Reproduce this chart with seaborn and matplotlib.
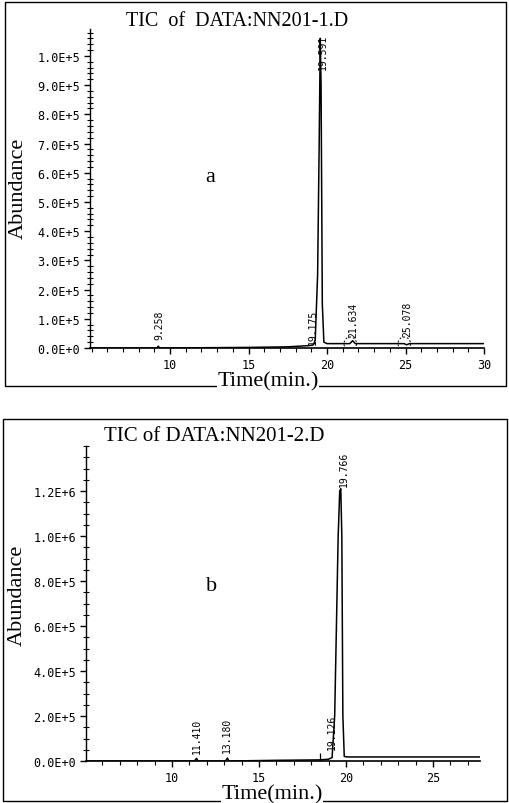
import matplotlib
matplotlib.use("Agg")
import matplotlib.pyplot as plt
import seaborn as sns
import pandas as pd
from matplotlib.patches import Rectangle, Ellipse
from matplotlib.ticker import MultipleLocator, FixedLocator

# Chromatogram a (NN201-1)
time_a = [4.9, 9.15, 9.25, 9.35, 15.0, 17.5, 18.8, 19.1, 19.175, 19.25, 19.4, 19.5,
          19.57, 19.62, 19.7, 19.8, 20.0, 21.45, 21.63, 21.8, 24.9, 25.08, 25.25, 30.0]
abund_a = [0, 0, 6e3, 0, 2e3, 4e3, 8e3, 1e4, 1.6e4, 3e4, 2.5e5, 7e5,
           1.06e6, 9e5, 1.5e5, 2e4, 1.5e4, 1.5e4, 2.5e4, 1.5e4, 1.5e4, 1.1e4, 1.5e4, 1.5e4]
peaks_a = ["9.258", "19.175", "19.591", "21.634", "25.078"]
peak_pos_a = [9.3, 19.1, 19.74, 21.68, 25.12]
peak_lab_y_a = [0.3e5, 0.14e5, 9.55e5, 0.38e5, 0.4e5]
yticks_a = [i * 1e5 for i in range(11)]
ylabels_a = ["0.0E+0", "1.0E+5", "2.0E+5", "3.0E+5", "4.0E+5", "5.0E+5",
             "6.0E+5", "7.0E+5", "8.0E+5", "9.0E+5", "1.0E+5"]
xticks_a = [10, 15, 20, 25, 30]

# Chromatogram b (NN201-2)
time_b = [5.06, 11.3, 11.41, 11.5, 13.08, 13.18, 13.28, 16.0, 18.5, 19.0, 19.2, 19.35,
          19.45, 19.55, 19.64, 19.7, 19.76, 19.82, 19.9, 20.1, 27.7]
abund_b = [0, 0, 1.2e4, 0, 0, 1.3e4, 0, 3e3, 5e3, 8e3, 1.5e4, 2e5,
           6e5, 1.0e6, 1.2e6, 1.21e6, 1.0e6, 2e5, 2e4, 1.8e4, 1.8e4]
peaks_b = ["11.410", "13.180", "19.126", "19.766"]
peak_pos_b = [11.44, 13.16, 19.2, 19.85]
peak_lab_y_b = [0.35e5, 0.4e5, 0.55e5, 12.2e5]
marks_b = [18.5]
yticks_b = [i * 2e5 for i in range(7)]
ylabels_b = ["0.0E+0", "2.0E+5", "4.0E+5", "6.0E+5", "8.0E+5", "1.0E+6", "1.2E+6"]
xticks_b = [10, 15, 20, 25]

sns.set_style("ticks")
plt.rcParams["font.family"] = ["DejaVu Sans Mono"]
plt.rcParams["text.color"] = "black"
plt.rcParams["xtick.color"] = "black"
plt.rcParams["ytick.color"] = "black"
plt.rcParams["axes.edgecolor"] = "black"
serif = ["Liberation Serif", "DejaVu Serif"]
mono = ["DejaVu Sans Mono"]

W, H = 509, 804
fig = plt.figure(figsize=(W / 100, H / 100), dpi=100)


def fx(px):
    return px / W


def fy(py):
    return 1 - py / H


def panel(rect, t, a, xlim, ylim, xticks, yticks, ylabels, ymin_step,
          names, pos, laby):
    ax = fig.add_axes(rect)
    df = pd.DataFrame({"time": t, "abund": a})
    sns.lineplot(data=df, x="time", y="abund", ax=ax, color="black", lw=1.1,
                 estimator=None, sort=False)
    ax.set_xlim(*xlim)
    ax.set_ylim(*ylim)
    sns.despine(ax=ax)
    ax.spines["left"].set_linewidth(1.0)
    ax.spines["bottom"].set_linewidth(1.2)
    ax.xaxis.set_major_locator(FixedLocator(xticks))
    ax.xaxis.set_minor_locator(MultipleLocator(1))
    ax.yaxis.set_major_locator(FixedLocator(yticks))
    ax.yaxis.set_minor_locator(MultipleLocator(ymin_step))
    ax.set_yticklabels(ylabels)
    ax.tick_params(axis="y", which="major", direction="out", length=4, width=1,
                   labelsize=8.5, pad=3, colors="black")
    ax.tick_params(axis="y", which="minor", direction="inout", length=4, width=0.8,
                   colors="black")
    ax.tick_params(axis="x", which="major", direction="out", length=4, width=1,
                   labelsize=8.5, pad=3, colors="black")
    ax.tick_params(axis="x", which="minor", direction="out", length=3, width=0.8,
                   colors="black")
    for lab in ax.get_xticklabels() + ax.get_yticklabels():
        lab.set_family(mono)
    ax.set_xlabel("")
    ax.set_ylabel("")
    for n, x, y in zip(names, pos, laby):
        ax.text(x, y, n, rotation=90, ha="center", va="bottom",
                fontsize=7, family=mono, color="black")
    return ax


ax1 = panel([fx(90), fy(349), fx(484) - fx(90), fy(30) - fy(349)],
            time_a, abund_a, (4.9, 30), (0, 10.92e5), xticks_a, yticks_a,
            ylabels_a, 2e4, peaks_a, peak_pos_a, peak_lab_y_a)
for x in peak_pos_a[3:]:
    ax1.add_patch(Ellipse((x - 0.2, 1.5e4), 0.8, 0.45e5, fill=False,
                          ls=(0, (2, 2)), lw=0.7, color="black"))

ax2 = panel([fx(86), fy(762), fx(480) - fx(86), fy(447) - fy(762)],
            time_b, abund_b, (5.06, 27.7), (0, 1.4e6), xticks_b, yticks_b,
            ylabels_b, 5e4, peaks_b, peak_pos_b, peak_lab_y_b)
ax2.vlines(marks_b, 0, 0.35e5, color="black", lw=0.9)

# outer frames
fig.add_artist(Rectangle((fx(5), fy(387)), fx(506) - fx(5), fy(3) - fy(387),
                         transform=fig.transFigure, fill=False, lw=1.0,
                         color="black", zorder=1))
fig.add_artist(Rectangle((fx(3), fy(802)), fx(507) - fx(3), fy(420) - fy(802),
                         transform=fig.transFigure, fill=False, lw=1.0,
                         color="black", zorder=1))

# titles and labels
fig.text(fx(237), fy(22), "TIC  of  DATA:NN201-1.D", ha="center", va="center",
         fontsize=14.5, family=serif, zorder=3)
fig.text(fx(214), fy(437), "TIC of DATA:NN201-2.D", ha="center", va="center",
         fontsize=15, family=serif, zorder=3)
fig.text(fx(210), fy(178), "a", ha="center", va="center", fontsize=16, family=serif)
fig.text(fx(212), fy(587), "b", ha="center", va="center", fontsize=16, family=serif)
fig.text(fx(18), fy(188), "Abundance", rotation=90, ha="center", va="center",
         fontsize=16, family=serif)
fig.text(fx(17), fy(595), "Abundance", rotation=90, ha="center", va="center",
         fontsize=16, family=serif)
fig.text(fx(268), fy(382), "Time(min.)", ha="center", va="center", fontsize=16,
         family=serif, zorder=3,
         bbox=dict(facecolor="white", edgecolor="none", pad=0))
fig.text(fx(272), fy(795), "Time(min.)", ha="center", va="center", fontsize=16,
         family=serif, zorder=3,
         bbox=dict(facecolor="white", edgecolor="none", pad=0))

fig.savefig("out.png", dpi=100)
